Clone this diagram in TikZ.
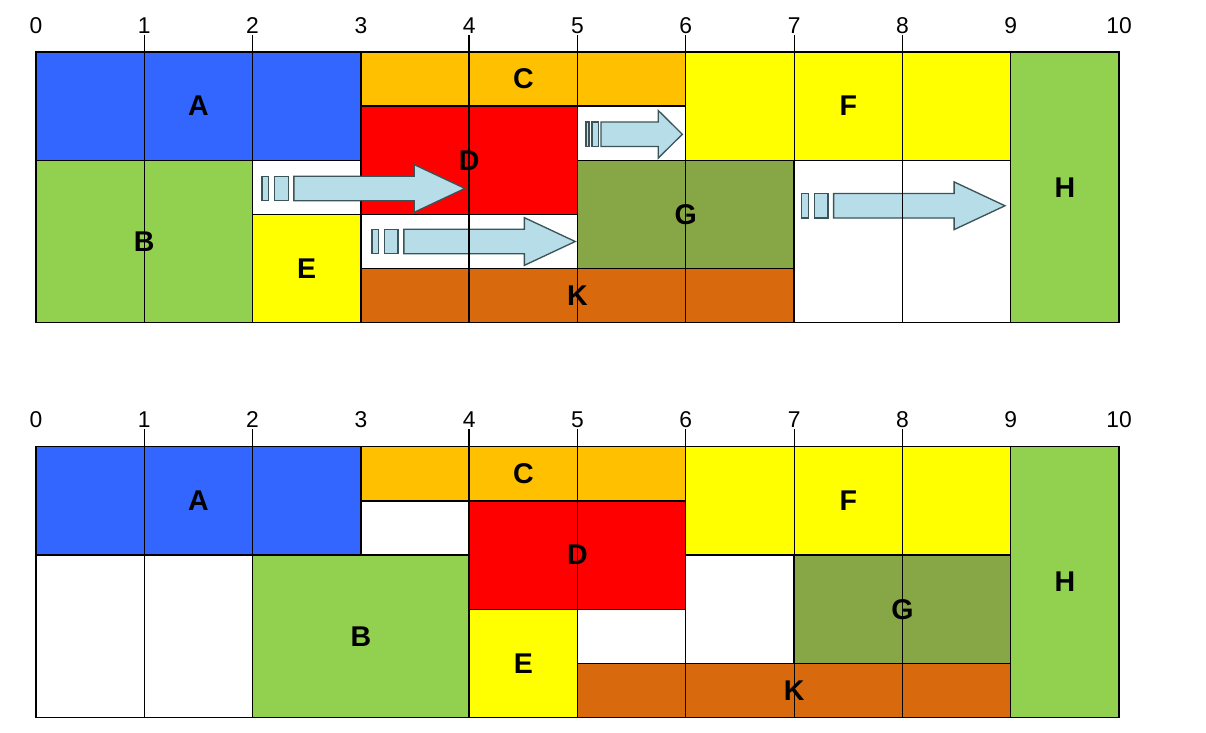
\documentclass[tikz,border=0pt]{standalone}
\usepackage{fontspec}
\setmainfont{Liberation Sans}
\usepackage{xcolor}
\usepackage{tikz}
\definecolor{TaskBlue}{HTML}{3366FF}
\definecolor{TaskGreen}{HTML}{92D050}
\definecolor{TaskOrange}{HTML}{FFC000}
\definecolor{TaskRed}{HTML}{FF0000}
\definecolor{TaskYellow}{HTML}{FFFF00}
\definecolor{TaskOlive}{HTML}{87A645}
\definecolor{TaskRust}{HTML}{D9690D}
\definecolor{ArrowFill}{HTML}{B7DEE8}
\definecolor{ArrowLine}{HTML}{3B5459}
\newcommand{\shiftarrow}[3]{% start, tip, middle
  \pgfmathsetmacro{\arrlen}{#2-#1}
  \pgfmathsetmacro{\arrbarone}{#1+0.033*\arrlen}
  \pgfmathsetmacro{\arrbartwo}{#1+0.063*\arrlen}
  \pgfmathsetmacro{\arrbarthree}{#1+0.129*\arrlen}
  \pgfmathsetmacro{\arrshaft}{#1+0.157*\arrlen}
  \pgfmathsetmacro{\arrhead}{#2-0.25*\arrlen}
  \draw[shiftbar] (#1,#3-0.113) rectangle (\arrbarone,#3+0.113);
  \draw[shiftbar] (\arrbartwo,#3-0.113) rectangle (\arrbarthree,#3+0.113);
  \draw[shiftbar] (\arrshaft,#3-0.113) -- (\arrhead,#3-0.113) -- (\arrhead,#3-0.22)
    -- (#2,#3) -- (\arrhead,#3+0.22) -- (\arrhead,#3+0.113) -- (\arrshaft,#3+0.113) -- cycle;
}

\begin{document}
\begin{tikzpicture}[
      task/.style = {draw, line width=0.35pt, inner sep=0pt, outer sep=0pt,
        font=\bfseries\fontsize{7.5}{8}\selectfont},
      gap/.style = {task, fill=white},
      ticklabel/.style = {inner sep=0pt, font=\fontsize{6}{7}\selectfont},
      gridline/.style = {line width=0.25pt},
      shiftbar/.style = {draw=ArrowLine, fill=ArrowFill, line width=0.35pt, line join=miter},
  ]
  \useasboundingbox (-0.332,0.48) rectangle (10.803,-6.279);
  % ┌────────┐
  % │ vorher │
  % └────────┘
  \begin{scope}
  \node[gap, minimum width=1cm, minimum height=0.5cm] (beforegapone) at (2.5,-1.25) {};
  \node[gap, minimum width=2cm, minimum height=0.5cm] (beforegaptwo) at (4,-1.75) {};
  \node[gap, minimum width=1cm, minimum height=0.5cm] (beforegapthree) at (5.5,-0.75) {};
  \node[gap, minimum width=2cm, minimum height=1.5cm] (beforegapfour) at (8,-1.75) {};
  \node[task, fill=TaskBlue, minimum width=3cm, minimum height=1cm] (beforea) at (1.5,-0.5) {A};
  \node[task, fill=TaskGreen, minimum width=2cm, minimum height=1.5cm] (beforeb) at (1,-1.75) {B};
  \node[task, fill=TaskOrange, minimum width=3cm, minimum height=0.5cm] (beforec) at (4.5,-0.25) {C};
  \node[task, fill=TaskRed, minimum width=2cm, minimum height=1cm] (befored) at (4,-1) {D};
  \node[task, fill=TaskYellow, minimum width=1cm, minimum height=1cm] (beforee) at (2.5,-2) {E};
  \node[task, fill=TaskYellow, minimum width=3cm, minimum height=1cm] (beforef) at (7.5,-0.5) {F};
  \node[task, fill=TaskOlive, minimum width=2cm, minimum height=1cm] (beforeg) at (6,-1.5) {G};
  \node[task, fill=TaskGreen, minimum width=1cm, minimum height=2.5cm] (beforeh) at (9.5,-1.25) {H};
  \node[task, fill=TaskRust, minimum width=4cm, minimum height=0.5cm] (beforek) at (5,-2.25) {K};
  % Verschiebungen
  \shiftarrow{2.087}{3.961}{-1.26}
  \shiftarrow{3.102}{4.979}{-1.75}
  \shiftarrow{5.078}{5.968}{-0.76}
  \shiftarrow{7.07}{8.947}{-1.42}
  % Zeitachse
  \foreach \i in {0,...,10}
    \node[ticklabel] (beforetick\i) at (\i,0.245) {\i};
  \foreach \i in {1,2,6,7,8}
    \draw[gridline] (\i,0.16) -- (\i,-2.5);
  \draw[gridline, line width=0.5pt] (4,0.16) -- (4,-2.5);
  \draw[gridline, line width=0.4pt] (5,0.16) -- (5,-2.5);
  \end{scope}
  % ┌─────────┐
  % │ nachher │
  % └─────────┘
  \begin{scope}[yshift=-3.645cm]
  \node[gap, minimum width=1cm, minimum height=0.5cm] (aftergapone) at (3.5,-0.75) {};
  \node[gap, minimum width=2cm, minimum height=1.5cm] (aftergaptwo) at (1,-1.75) {};
  \node[gap, minimum width=1cm, minimum height=0.5cm] (aftergapthree) at (5.5,-1.75) {};
  \node[gap, minimum width=1cm, minimum height=1cm] (aftergapfour) at (6.5,-1.5) {};
  \node[task, fill=TaskBlue, minimum width=3cm, minimum height=1cm] (aftera) at (1.5,-0.5) {A};
  \node[task, fill=TaskGreen, minimum width=2cm, minimum height=1.5cm] (afterb) at (3,-1.75) {B};
  \node[task, fill=TaskOrange, minimum width=3cm, minimum height=0.5cm] (afterc) at (4.5,-0.25) {C};
  \node[task, fill=TaskRed, minimum width=2cm, minimum height=1cm] (afterd) at (5,-1) {D};
  \node[task, fill=TaskYellow, minimum width=1cm, minimum height=1cm] (aftere) at (4.5,-2) {E};
  \node[task, fill=TaskYellow, minimum width=3cm, minimum height=1cm] (afterf) at (7.5,-0.5) {F};
  \node[task, fill=TaskOlive, minimum width=2cm, minimum height=1cm] (afterg) at (8,-1.5) {G};
  \node[task, fill=TaskGreen, minimum width=1cm, minimum height=2.5cm] (afterh) at (9.5,-1.25) {H};
  \node[task, fill=TaskRust, minimum width=4cm, minimum height=0.5cm] (afterk) at (7,-2.25) {K};
  % Zeitachse
  \foreach \i in {0,...,10}
    \node[ticklabel] (aftertick\i) at (\i,0.252) {\i};
  \foreach \i in {1,2,5,6,7,8}
    \draw[gridline] (\i,0.16) -- (\i,-2.5);
  \draw[gridline, line width=0.5pt] (4,0.16) -- (4,-2.5);
  \end{scope}
\end{tikzpicture}
\end{document}
